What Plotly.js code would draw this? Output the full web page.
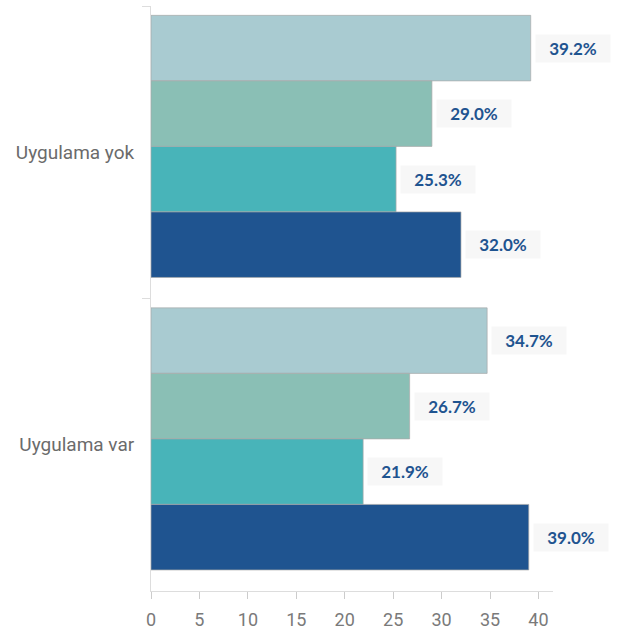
<!DOCTYPE html>
<html>
<head>
<meta charset="utf-8">
<script src="https://cdn.plot.ly/plotly-3.0.1.min.js"></script>
<style>html,body{margin:0;padding:0;background:#fff;}#chart{width:619px;height:630px;}</style>
</head>
<body>
<div id="chart"></div>
<script>
// Data
var categories = ['Uygulama yok', 'Uygulama var'];
var series1 = [39.2, 34.7];
var series2 = [29.0, 26.7];
var series3 = [25.3, 21.9];
var series4 = [32.0, 39.0];
var xTickVals = [0, 5, 10, 15, 20, 25, 30, 35, 40];

var seriesList = [series1, series2, series3, series4];
var colors = ['#A9CBD1', '#8ABFB5', '#48B4B9', '#1F5490'];
var barW = 0.224;
var startOff = -0.468;

var traces = [];
var annotations = [];
seriesList.forEach(function (vals, i) {
  var off = startOff + i * barW;
  traces.push({
    type: 'bar',
    orientation: 'h',
    y: categories,
    x: vals,
    width: barW,
    offset: off,
    marker: {color: colors[i], line: {color: 'rgba(170,170,170,0.7)', width: 1}},
    hoverinfo: 'none',
    showlegend: false
  });
  vals.forEach(function (v, j) {
    annotations.push({
      xref: 'x', yref: 'y',
      x: v, y: j + off + barW / 2,
      xanchor: 'left', yanchor: 'middle',
      xshift: 4,
      text: v.toFixed(1) + '%',
      showarrow: false,
      bgcolor: '#F7F7F7',
      borderpad: 4,
      width: 66, height: 19,
      align: 'center',
      font: {family: 'Lato, sans-serif', size: 17, color: '#1F5490', weight: 'bold'}
    });
  });
});

var layout = {
  width: 619, height: 630,
  margin: {l: 151, r: 66, t: 6, b: 39},
  paper_bgcolor: '#fff', plot_bgcolor: '#fff',
  barmode: 'overlay',
  xaxis: {
    range: [0, 41.5],
    tickvals: xTickVals,
    ticks: 'outside', ticklen: 7, tickcolor: '#cccccc',
    ticklabelstandoff: 5,
    showline: true, linecolor: '#dddddd', linewidth: 1,
    showgrid: false, zeroline: false,
    tickfont: {family: 'Roboto, sans-serif', size: 18, color: '#7a7a7a'}
  },
  yaxis: {
    type: 'category',
    categoryorder: 'array', categoryarray: categories,
    autorange: 'reversed',
    ticks: 'outside', tickson: 'boundaries', ticklen: 8, tickcolor: '#dddddd',
    ticklabelstandoff: 12,
    showline: true, linecolor: '#dddddd', linewidth: 1,
    showgrid: false, zeroline: false,
    tickfont: {family: 'Roboto, sans-serif', size: 19, color: '#6b6b6b'}
  },
  annotations: annotations,
  font: {family: 'Roboto, sans-serif'}
};

Plotly.newPlot('chart', traces, layout, {displayModeBar: false, staticPlot: true});
</script>
</body>
</html>
